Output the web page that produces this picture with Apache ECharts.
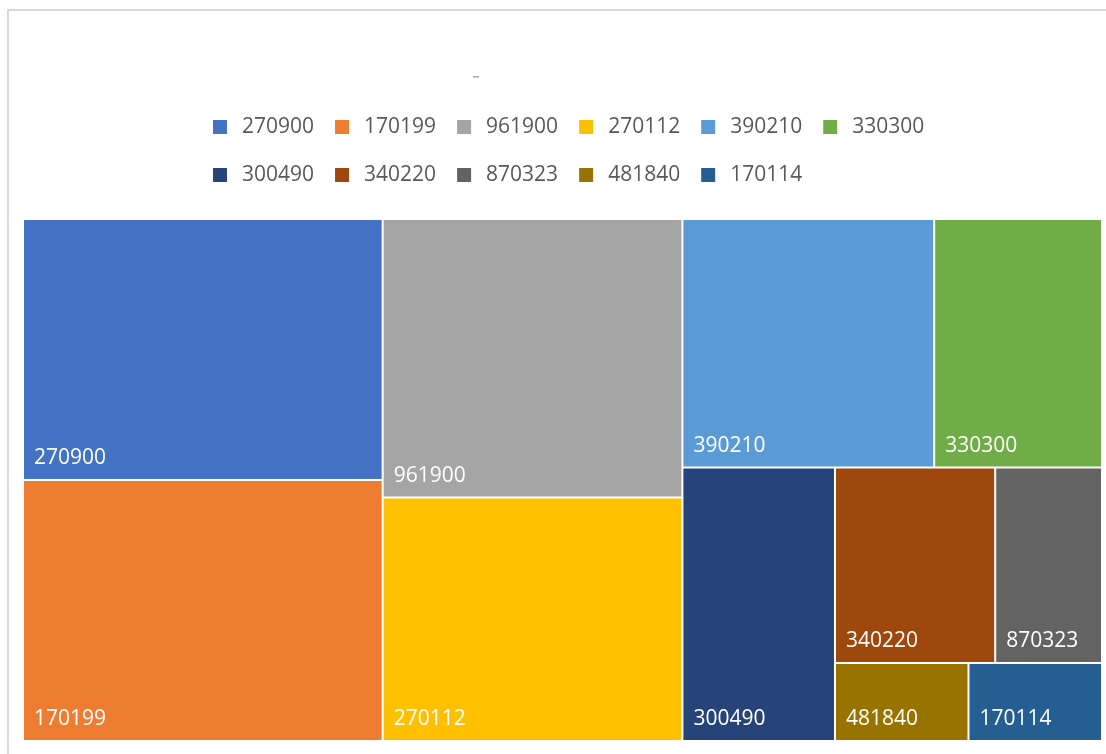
<!DOCTYPE html>
<html>
<head>
<meta charset="utf-8">
<script src="https://cdn.jsdelivr.net/npm/echarts@6/dist/echarts.min.js"></script>
<style>
html,body{margin:0;padding:0;background:#fff;}
#chart{width:1106px;height:754px;}
</style>
</head>
<body>
<div id="chart"></div>
<script>
// Data
const names = ['270900','170199','961900','270112','390210','330300','300490','340220','870323','481840','170114'];
const values = [9, 9, 8, 7, 6, 4, 4, 3, 2, 1, 1];
const colors = ['#4472C4','#ED7D31','#A5A5A5','#FFC000','#5B9BD5','#70AD47','#264478','#9E480E','#636363','#997300','#255E91'];
const legendRow1 = names.slice(0, 6);
const legendRow2 = names.slice(6);

const chart = echarts.init(document.getElementById('chart'), null, {renderer: 'canvas'});

const legendCommon = {
  orient: 'horizontal',
  left: 213,
  padding: 0,
  icon: 'rect',
  itemWidth: 14,
  itemHeight: 14,
  itemGap: 21,
  selectedMode: false,
  textStyle: {
    fontFamily: 'Open Sans',
    fontSize: 21,
    color: '#595959',
    lineHeight: 24,
    padding: [0, 0, 0, 10]
  }
};

const option = {
  animation: false,
  backgroundColor: '#ffffff',
  graphic: [
    {
      type: 'rect',
      shape: {x: 8, y: 10, width: 1200, height: 900},
      style: {fill: 'none', stroke: '#d9d9d9', lineWidth: 2},
      silent: true,
      z: -10
    },
    {
      type: 'rect',
      shape: {x: 473, y: 76, width: 6, height: 1.5},
      style: {fill: '#a6a6a6'},
      silent: true
    }
  ],
  legend: [
    Object.assign({}, legendCommon, {top: 115, data: legendRow1}),
    Object.assign({}, legendCommon, {top: 163, data: legendRow2})
  ],
  series: [
    {
      type: 'pie',
      name: 'legendProxy',
      center: [-200, -200],
      radius: [0, 0],
      silent: true,
      label: {show: false},
      labelLine: {show: false},
      data: names.map((n, i) => ({name: n, value: values[i], itemStyle: {color: colors[i]}}))
    },
    {
      type: 'treemap',
      left: 22,
      top: 218,
      width: 1081,
      height: 524,
      roam: false,
      nodeClick: false,
      sort: false,
      squareRatio: 1,
      visibleMin: 0,
      breadcrumb: {show: false},
      itemStyle: {borderWidth: 1, borderColor: '#ffffff', gapWidth: 0},
      label: {
        show: true,
        position: 'insideBottomLeft',
        distance: 10,
        padding: 0,
        color: '#ffffff',
        fontFamily: 'Open Sans',
        fontSize: 21,
        lineHeight: 21
      },
      emphasis: {disabled: true},
      data: names.map((n, i) => ({name: n, value: values[i], itemStyle: {color: colors[i]}}))
    }
  ]
};

chart.setOption(option);
</script>
</body>
</html>
